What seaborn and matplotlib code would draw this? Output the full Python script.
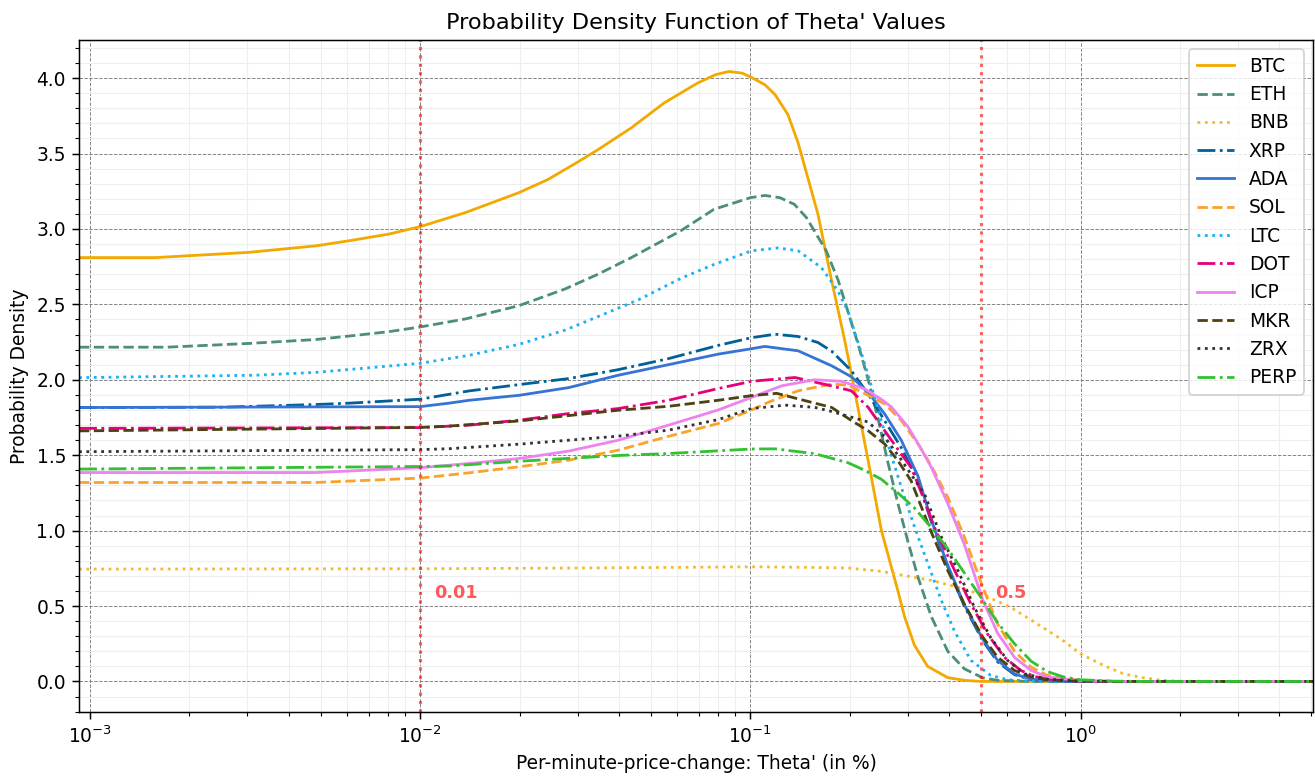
import numpy as np
import pandas as pd
import seaborn as sns
import matplotlib.pyplot as plt
from matplotlib.ticker import AutoMinorLocator

# values (x = theta' in %, y = density)
btc_x = [0.000927, 0.00158, 0.00304, 0.00484, 0.00611, 0.00805, 0.01, 0.0137, 0.0199, 0.0244, 0.0301, 0.0346,
         0.0436, 0.0548, 0.0692, 0.0783, 0.0861, 0.0944, 0.1009, 0.1107, 0.1189, 0.130, 0.1396, 0.1603, 0.1754,
         0.1932, 0.2023, 0.2168, 0.2323, 0.2495, 0.2673, 0.2799, 0.2931, 0.3141, 0.3443, 0.3963, 0.4467,
         0.5012, 5.1]
btc_y = [2.81, 2.81, 2.845, 2.888, 2.922, 2.966, 3.015, 3.108, 3.24, 3.328, 3.445, 3.526,
         3.67, 3.835, 3.967, 4.022, 4.044, 4.033, 4.004, 3.956, 3.89, 3.758, 3.57, 3.097, 2.68,
         2.26, 2.04, 1.70, 1.36, 1.0, 0.76, 0.6, 0.43, 0.24, 0.1, 0.025, 0.007,
         0.0, 0.0]

eth_x = [0.000927, 0.00171, 0.00304, 0.00484, 0.00611, 0.00805, 0.01, 0.0137, 0.0199, 0.0274, 0.0346, 0.0436,
         0.0615, 0.0776, 0.1, 0.1107, 0.123, 0.136, 0.1479, 0.1698, 0.1845, 0.1977, 0.2118, 0.2275, 0.2438,
         0.2612, 0.2799, 0.2999, 0.3221, 0.3532, 0.3963, 0.4446, 0.5058, 0.5623, 0.7079, 5.1]
eth_y = [2.216, 2.216, 2.241, 2.267, 2.29, 2.319, 2.35, 2.403, 2.491, 2.601, 2.70, 2.81,
         2.987, 3.13, 3.207, 3.222, 3.207, 3.163, 3.075, 2.855, 2.66, 2.45, 2.24, 2.0, 1.74,
         1.45, 1.18, 0.93, 0.69, 0.43, 0.2, 0.084, 0.024, 0.007, 0.0, 0.0]

bnb_x = [0.000927, 0.01, 0.0316, 0.1009, 0.1413, 0.1977, 0.2495, 0.3141, 0.3532, 0.4246, 0.5117, 0.6166,
         0.7413, 0.871, 1.0, 1.175, 1.349, 1.549, 1.778, 2.089, 5.1]
bnb_y = [0.745, 0.747, 0.752, 0.760, 0.757, 0.752, 0.73, 0.69, 0.67, 0.625, 0.57, 0.49,
         0.38, 0.283, 0.183, 0.106, 0.051, 0.024, 0.007, 0.0, 0.0]

xrp_x = [0.000927, 0.00251, 0.00484, 0.00611, 0.01, 0.01406, 0.01995, 0.02818, 0.03981, 0.05649, 0.07998,
         0.1009, 0.1189, 0.1396, 0.1603, 0.1762, 0.2023, 0.2275, 0.2553, 0.2864, 0.3221, 0.3532, 0.3963,
         0.4446, 0.5058, 0.561, 0.631, 0.7079, 0.7943, 1.0, 5.1]
xrp_y = [1.816, 1.818, 1.836, 1.845, 1.871, 1.926, 1.968, 2.008, 2.067, 2.14, 2.228,
         2.279, 2.302, 2.287, 2.247, 2.19, 2.06, 1.905, 1.728, 1.55, 1.33, 1.06, 0.76,
         0.50, 0.27, 0.13, 0.045, 0.013, 0.004, 0.0, 0.0]

ada_x = [0.000927, 0.01, 0.01225, 0.01406, 0.01995, 0.02818, 0.03981, 0.05649, 0.07998, 0.1009, 0.1107,
         0.1396, 0.1762, 0.2023, 0.2275, 0.2553, 0.2864, 0.3221, 0.3532, 0.3963, 0.4446, 0.5058, 0.561,
         0.631, 0.7079, 0.7943, 1.0, 5.1]
ada_y = [1.816, 1.822, 1.845, 1.864, 1.897, 1.948, 2.03, 2.10, 2.17, 2.206, 2.221,
         2.192, 2.093, 2.02, 1.916, 1.773, 1.6, 1.36, 1.07, 0.77, 0.51, 0.28, 0.14,
         0.05, 0.015, 0.005, 0.0, 0.0]

sol_x = [0.000927, 0.00484, 0.01, 0.01406, 0.01995, 0.02818, 0.03981, 0.05649, 0.07998, 0.1009, 0.1132,
         0.1396, 0.1762, 0.1977, 0.2553, 0.2864, 0.3221, 0.3532, 0.3963, 0.4446, 0.5058, 0.561, 0.631,
         0.7079, 0.7943, 1.0, 1.259, 5.1]
sol_y = [1.319, 1.319, 1.348, 1.383, 1.423, 1.467, 1.533, 1.625, 1.71, 1.80, 1.85,
         1.927, 1.971, 1.965, 1.84, 1.73, 1.575, 1.43, 1.22, 0.96, 0.625, 0.38, 0.2,
         0.095, 0.04, 0.006, 0.0, 0.0]

ltc_x = [0.000927, 0.00316, 0.00484, 0.01, 0.01406, 0.01995, 0.02754, 0.03467, 0.04581, 0.06194, 0.07816,
         0.1009, 0.1213, 0.1396, 0.1641, 0.1841, 0.1972, 0.2118, 0.2275, 0.2438, 0.2553, 0.2673, 0.2799,
         0.2931, 0.3148, 0.3532, 0.3784, 0.4159, 0.4656, 0.5346, 0.6026, 0.7079, 1.0, 5.1]
ltc_y = [2.014, 2.03, 2.049, 2.109, 2.162, 2.235, 2.33, 2.42, 2.53, 2.675, 2.767,
         2.855, 2.874, 2.855, 2.744, 2.59, 2.458, 2.25, 2.03, 1.80, 1.65, 1.50, 1.36,
         1.22, 1.02, 0.72, 0.54, 0.33, 0.14, 0.04, 0.011, 0.003, 0.0, 0.0]

dot_x = [0.000927, 0.01, 0.01406, 0.01995, 0.02818, 0.03981, 0.05649, 0.07998, 0.1009, 0.1365, 0.1679,
         0.2023, 0.2275, 0.2553, 0.2864, 0.3069, 0.3311, 0.3614, 0.4159, 0.4656, 0.5224, 0.5875, 0.6592,
         0.7244, 0.8318, 1.0, 1.259, 5.1]
dot_y = [1.678, 1.683, 1.699, 1.732, 1.776, 1.809, 1.864, 1.942, 1.99, 2.015, 1.97,
         1.927, 1.817, 1.662, 1.508, 1.42, 1.24, 1.02, 0.735, 0.514, 0.316, 0.161, 0.073,
         0.033, 0.01, 0.002, 0.0, 0.0]

icp_x = [0.000927, 0.00484, 0.01, 0.01406, 0.01995, 0.02818, 0.03981, 0.05649, 0.07998, 0.1, 0.1245,
         0.1567, 0.1888, 0.2218, 0.2495, 0.2673, 0.2999, 0.3296, 0.3532, 0.3963, 0.4446, 0.5058, 0.561,
         0.631, 0.7079, 0.7943, 1.0, 1.259, 5.1]
icp_y = [1.385, 1.385, 1.417, 1.445, 1.478, 1.527, 1.599, 1.699, 1.80, 1.88, 1.96,
         2.0, 1.99, 1.94, 1.87, 1.82, 1.69, 1.54, 1.42, 1.18, 0.91, 0.54, 0.32,
         0.16, 0.073, 0.03, 0.005, 0.0, 0.0]

mkr_x = [0.000927, 0.01, 0.01225, 0.01995, 0.03981, 0.05649, 0.07998, 0.1009, 0.1202, 0.1567, 0.1762,
         0.2023, 0.2275, 0.2553, 0.2799, 0.3069, 0.3532, 0.3963, 0.4446, 0.5058, 0.561, 0.631, 0.7079,
         0.7943, 1.0, 1.259, 5.1]
mkr_y = [1.661, 1.684, 1.693, 1.727, 1.798, 1.824, 1.864, 1.895, 1.91, 1.845, 1.817,
         1.73, 1.662, 1.574, 1.464, 1.33, 0.99, 0.735, 0.514, 0.294, 0.161, 0.073, 0.029,
         0.01, 0.002, 0.0, 0.0]

zrx_x = [0.000927, 0.01, 0.01225, 0.01995, 0.03981, 0.05649, 0.07998, 0.1009, 0.1132, 0.1274, 0.1567,
         0.1762, 0.2275, 0.2553, 0.2864, 0.3373, 0.3784, 0.4256, 0.4775, 0.5346, 0.6012, 0.6761, 0.7943,
         1.0, 1.259, 5.1]
zrx_y = [1.523, 1.537, 1.543, 1.573, 1.626, 1.666, 1.736, 1.81, 1.82, 1.832, 1.817,
         1.79, 1.72, 1.62, 1.47, 1.24, 0.96, 0.735, 0.49, 0.29, 0.14, 0.051, 0.015,
         0.003, 0.0, 0.0]

perp_x = [0.000927, 0.01, 0.01225, 0.01995, 0.03981, 0.05649, 0.07998, 0.1009, 0.1189, 0.1567, 0.1977,
          0.2218, 0.2495, 0.2799, 0.3141, 0.3532, 0.3963, 0.4446, 0.5058, 0.561, 0.631, 0.7079, 0.7943,
          0.8913, 1.0, 1.259, 1.585, 5.1]
perp_y = [1.408, 1.425, 1.428, 1.46, 1.498, 1.511, 1.529, 1.541, 1.542, 1.51, 1.45,
          1.40, 1.34, 1.25, 1.15, 1.02, 0.88, 0.72, 0.54, 0.39, 0.25, 0.135, 0.065,
          0.029, 0.011, 0.002, 0.0, 0.0]

coins = ['BTC', 'ETH', 'BNB', 'XRP', 'ADA', 'SOL', 'LTC', 'DOT', 'ICP', 'MKR', 'ZRX', 'PERP']
xs = [btc_x, eth_x, bnb_x, xrp_x, ada_x, sol_x, ltc_x, dot_x, icp_x, mkr_x, zrx_x, perp_x]
ys = [btc_y, eth_y, bnb_y, xrp_y, ada_y, sol_y, ltc_y, dot_y, icp_y, mkr_y, zrx_y, perp_y]
colors = ['#F2A900', '#4b8f78', '#F3BA2F', '#006097', '#3574d4', '#fba22c',
          '#19b1f7', '#E6007A', '#EE82EE', '#4d4212', '#333333', '#31c131']
styles = ['-', '--', ':', '-.'] * 3

thresholds = [0.01, 0.5]

DPI = 134
fig, ax = plt.subplots(figsize=(1315 / DPI, 780 / DPI), dpi=DPI)
fig.subplots_adjust(left=0.0601, right=0.9985, bottom=0.0872, top=0.9487)

for name, x, y, c, ls in zip(coins, xs, ys, colors, styles):
    df = pd.DataFrame({'x': x, 'y': y})
    sns.lineplot(data=df, x='x', y='y', ax=ax, label=name, color=c, linestyle=ls,
                 linewidth=1.5, estimator=None)

for t in thresholds:
    ax.axvline(t, color='red', linestyle=':', linewidth=1.7, alpha=0.6)
    ax.text(t * 1.1, 0.55, str(t), color='red', alpha=0.65, fontsize=9.5, fontweight='bold')

ax.set_xscale('log')
ax.set_xlim(0.000927, 5.06)
ax.set_ylim(-0.2025, 4.2525)
ax.yaxis.set_minor_locator(AutoMinorLocator(5))

ax.grid(which='major', color='gray', linestyle='--', linewidth=0.5)
ax.grid(which='minor', color='#eeeeee', linestyle='-', linewidth=0.6)
ax.set_axisbelow(True)

ax.set_title("Probability Density Function of Theta' Values")
ax.set_xlabel("Per-minute-price-change: Theta' (in %)")
ax.set_ylabel("Probability Density")
ax.legend(loc='upper right')

plt.savefig('out.png', dpi=DPI)
